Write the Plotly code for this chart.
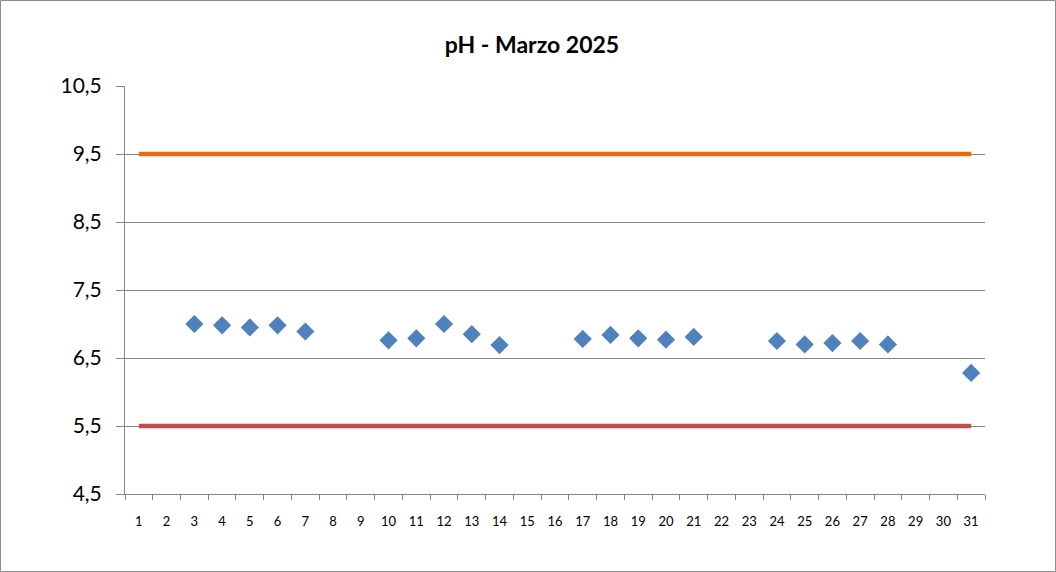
import plotly.graph_objects as go

days = [str(d) for d in range(1, 32)]

# measured pH per day (None = no sample)
ph_values = [None, None, 7.00, 6.98, 6.95, 6.98, 6.89, None, None, 6.76,
             6.79, 7.00, 6.85, 6.69, None, None, 6.78, 6.84, 6.79, 6.77,
             6.81, None, None, 6.75, 6.70, 6.72, 6.75, 6.70, None, None,
             6.28]

limit_max = [9.5] * 31
limit_min = [5.5] * 31

W, H = 1056, 572
ml, mr, mt, mb = 125, 71, 86, 78
pw, ph = W - ml - mr, H - mt - mb

fig = go.Figure()

fig.add_trace(go.Scatter(
    x=days, y=limit_max, mode='lines',
    line=dict(color='#E46C0A', width=4.5),
    showlegend=False, hoverinfo='skip'
))
fig.add_trace(go.Scatter(
    x=days, y=limit_min, mode='lines',
    line=dict(color='#C0504D', width=4.5),
    showlegend=False, hoverinfo='skip'
))
fig.add_trace(go.Scatter(
    x=days, y=ph_values, mode='markers',
    marker=dict(symbol='diamond', size=14, color='#4F81BD'),
    showlegend=False, name='pH'
))

# outer chart border
fig.add_shape(
    type='rect', xref='paper', yref='paper',
    x0=(0.5 - ml) / pw, x1=(W - 0.5 - ml) / pw,
    y0=(-mb + 0.5) / ph, y1=(ph + mt - 0.5) / ph,
    line=dict(color='#8c8c8c', width=1), layer='below'
)

fig.update_layout(
    width=W, height=H,
    margin=dict(l=ml, r=mr, t=mt, b=mb),
    paper_bgcolor='white', plot_bgcolor='white',
    separators=', ',
    font=dict(family='Lato, Open Sans, sans-serif', color='black'),
    title=dict(
        text='<b>pH - Marzo 2025</b>',
        x=532 / W, xref='container', xanchor='center',
        y=1 - 45 / H, yref='container', yanchor='middle',
        font=dict(size=23, color='black')
    ),
    xaxis=dict(
        type='category', tickson='boundaries',
        range=[-0.5, len(days) - 0.5],
        showline=True, linecolor='#868686', linewidth=1,
        ticks='outside', ticklen=5, tickcolor='#868686',
        ticklabelstandoff=15, tickangle=0,
        showgrid=False, tickfont=dict(size=13),
        fixedrange=True
    ),
    yaxis=dict(
        range=[4.5, 10.5], tickmode='array',
        tickvals=[4.5, 5.5, 6.5, 7.5, 8.5, 9.5, 10.5],
        ticktext=['4,5', '5,5', '6,5', '7,5', '8,5', '9,5', '10,5'],
        showline=True, linecolor='#868686', linewidth=1,
        ticks='outside', ticklen=8, tickcolor='#868686',
        ticklabelstandoff=10,
        showgrid=True, gridcolor='#868686', gridwidth=1,
        zeroline=False, tickfont=dict(size=21),
        fixedrange=True
    ),
)

# the page body has a default 8px margin; drop it so the chart fills the window
fig.write_html("out.html", config={'displayModeBar': False},
               post_script="document.body.style.margin='0';")
